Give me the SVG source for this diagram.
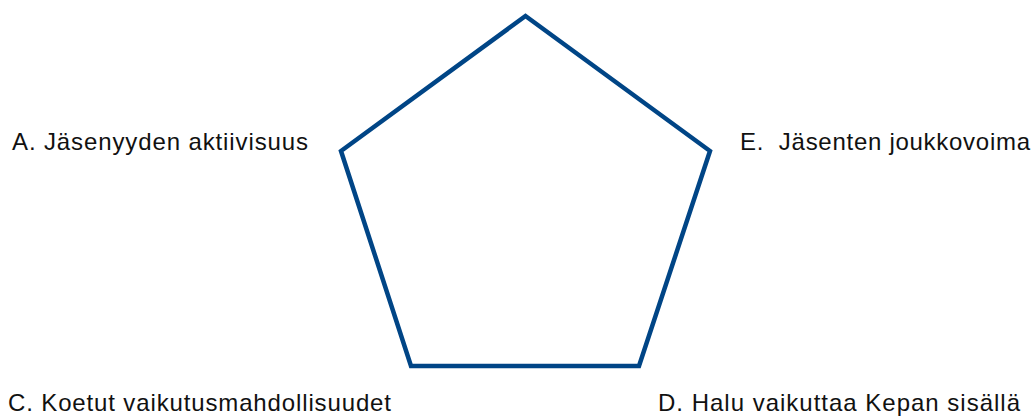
<svg xmlns="http://www.w3.org/2000/svg" width="1036" height="417" viewBox="0 0 1036 417">
<style>
.lbl{font-family:"Liberation Sans",Arial,sans-serif;font-size:24px;fill:#111}
.shape{fill:none;stroke:#004586;stroke-width:4.5;stroke-linejoin:miter}
</style>
<rect width="1036" height="417" fill="#fff"/>
<g id="pentagon">
<polygon class="shape" points="525.5,16 710,151 639,366 411,366 341,151"/>
</g>
<g id="connectors"></g>
<g id="label-a"><text class="lbl" x="12" y="149.5" textLength="296">A. Jäsenyyden aktiivisuus</text></g>
<g id="label-e"><text class="lbl" x="740" y="149.5" textLength="290" xml:space="preserve">E.  Jäsenten joukkovoima</text></g>
<g id="label-c"><text class="lbl" x="8" y="411" textLength="383">C. Koetut vaikutusmahdollisuudet</text></g>
<g id="label-d"><text class="lbl" x="658" y="411" textLength="362">D. Halu vaikuttaa Kepan sisällä</text></g>
</svg>
